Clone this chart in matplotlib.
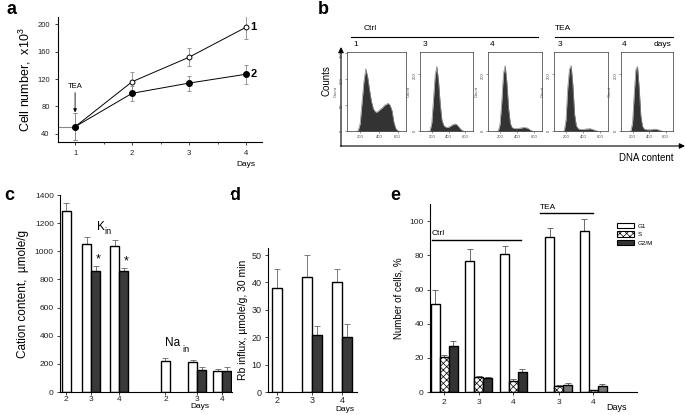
import matplotlib
matplotlib.use('Agg')
import matplotlib.pyplot as plt
from matplotlib.patches import Patch
from matplotlib.transforms import blended_transform_factory

plt.rcParams['font.family'] = ['Liberation Sans', 'DejaVu Sans']
plt.rcParams['mathtext.fontset'] = 'custom'
plt.rcParams['mathtext.rm'] = 'Liberation Sans'
plt.rcParams['hatch.linewidth'] = 0.5

# --- a: cell growth
days_a = [1, 2, 3, 4]
cells_ctrl = [50, 116, 152, 196]
cells_ctrl_err = [20, 15, 13, 18]
cells_tea = [50, 99, 114, 127]
cells_tea_err = [20, 11, 11, 14]

# --- b: DNA histograms (counts per channel)
dna_channel = [160, 180, 200, 220, 240, 260, 280, 300, 320, 340, 360, 380, 400,
               420, 440, 460, 480, 500, 520, 540, 560, 580, 600, 620, 640]
hist_ctrl1 = [0, 2, 15, 55, 95, 120, 105, 80, 58, 44, 38, 37, 40,
              43, 46, 50, 52, 54, 50, 40, 18, 6, 2, 0, 0]
hist_ctrl3 = [0, 3, 30, 110, 195, 225, 175, 95, 40, 22, 16, 14, 15,
              18, 22, 25, 26, 23, 16, 9, 4, 1, 0, 0, 0]
hist_ctrl4 = [0, 2, 25, 100, 200, 228, 170, 80, 28, 14, 11, 10, 10,
              11, 12, 13, 14, 13, 12, 8, 4, 1, 0, 0, 0]
hist_tea3 = [0, 3, 40, 150, 215, 228, 160, 60, 20, 10, 8, 7, 7,
             8, 9, 9, 10, 8, 6, 4, 2, 0, 0, 0, 0]
hist_tea4 = [0, 2, 30, 130, 215, 225, 150, 55, 18, 9, 7, 6, 6,
             6, 7, 8, 8, 7, 5, 3, 1, 0, 0, 0, 0]

# --- c: cation content
cation_days = ['2', '3', '4', '2', '3', '4']
cation_ctrl = [1285, 1050, 1040, 221, 210, 147]
cation_ctrl_err = [55, 50, 40, 20, 16, 16]
cation_tea = [None, 857, 857, None, 157, 150]
cation_tea_err = [None, 36, 25, None, 19, 27]

# --- d: Rb influx
rb_days = ['2', '3', '4']
rb_ctrl = [38, 42, 40]
rb_ctrl_err = [7, 8, 5]
rb_tea = [None, 21, 20]
rb_tea_err = [None, 3, 5]

# --- e: cell cycle phases
cycle_days = ['2', '3', '4', '3', '4']
cycle_group = ['Ctrl', 'Ctrl', 'Ctrl', 'TEA', 'TEA']
g1 = [51.5, 76.5, 80.5, 91, 94.5]
g1_err = [8, 7, 5, 5, 6.5]
s_phase = [20.7, 8.7, 6.8, 3.6, 1.0]
s_err = [0.8, 0.5, 0.8, 0.5, 0.3]
g2m = [26.8, 8.2, 12, 4.4, 3.8]
g2m_err = [3.4, 0.8, 1.7, 0.7, 0.9]

W, H = 685, 415
fig = plt.figure(figsize=(W / 100, H / 100), dpi=100)


def px_rect(l, t, r, b):
    return [l / W, 1 - b / H, (r - l) / W, (b - t) / H]


def style_axes(ax, fs):
    for s in ['top', 'right']:
        ax.spines[s].set_visible(False)
    for s in ['left', 'bottom']:
        ax.spines[s].set_linewidth(0.8)
    ax.tick_params(labelsize=fs, width=0.6, colors='#222')


def paired_bars(ax, pos, ctrl, ctrl_err, tea, tea_err, w):
    for i, p in enumerate(pos):
        xw = p if tea[i] is None else p - w / 2
        ax.bar(xw, ctrl[i], w, color='white', edgecolor='k', lw=1.0, zorder=2)
        ax.errorbar(xw, ctrl[i], yerr=[[0], [ctrl_err[i]]], fmt='none',
                    ecolor='#666', elinewidth=0.6, capsize=2, capthick=0.6, zorder=1)
        if tea[i] is not None:
            ax.bar(p + w / 2, tea[i], w, color='#3a3a3a', edgecolor='k', lw=1.0, zorder=2)
            ax.errorbar(p + w / 2, tea[i], yerr=[[0], [tea_err[i]]], fmt='none',
                        ecolor='#666', elinewidth=0.6, capsize=2, capthick=0.6, zorder=1)


# overlay for labels and panel b annotations (pixel coords)
ov = fig.add_axes([0, 0, 1, 1])
ov.set_xlim(0, W)
ov.set_ylim(H, 0)
ov.axis('off')
for lab, x, y in [('a', 12, 10), ('b', 323, 9), ('c', 9, 195), ('d', 235, 195), ('e', 395, 195)]:
    ov.text(x, y, lab, fontsize=13, fontweight='bold', ha='center', va='center')

# ---------------- a
ax = fig.add_axes(px_rect(58, 17, 262, 141.7))
style_axes(ax, 5.5)
ax.set_xlim(0.7, 4.28)
ax.set_ylim(28, 211)
ax.plot([0.7, days_a[0]], [cells_ctrl[0], cells_ctrl[0]], color='#888', lw=0.8)
ax.errorbar(days_a, cells_ctrl, yerr=cells_ctrl_err, fmt='none', ecolor='#888',
            elinewidth=0.6, capsize=1.5, capthick=0.6)
ax.errorbar(days_a, cells_tea, yerr=cells_tea_err, fmt='none', ecolor='#888',
            elinewidth=0.6, capsize=1.5, capthick=0.6)
ax.plot(days_a, cells_ctrl, '-o', color='k', mfc='white', ms=3.5, lw=0.7, mew=0.7, zorder=3)
ax.plot(days_a, cells_tea, '-o', color='k', mfc='k', ms=4, lw=0.7, zorder=4)
ax.set_xticks(days_a)
ax.set_xticks([1.5, 2.5, 3.5], minor=True)
ax.set_yticks([40, 80, 120, 160, 200])
ax.tick_params(length=2.5, pad=3.5)
ax.tick_params(which='minor', length=1.5, width=0.5)
ax.set_ylabel(r'Cell number,  x10$^{\mathregular{3}}$', fontsize=9, labelpad=3)
ax.annotate('', xy=(1, 71), xytext=(1, 100),
            arrowprops=dict(arrowstyle='-|>', color='k', lw=0.6, mutation_scale=5,
                            shrinkA=0, shrinkB=0))
ax.text(1, 109, 'TEA', ha='center', va='center', fontsize=5.5)
ax.text(4.08, cells_ctrl[-1], '1', fontsize=8, fontweight='bold', va='center', clip_on=False)
ax.text(4.08, cells_tea[-1], '2', fontsize=8, fontweight='bold', va='center', clip_on=False)
tr = blended_transform_factory(ax.transData, ax.transAxes)
ax.text(4, -0.18, 'Days', transform=tr, ha='center', va='center', fontsize=6)

# ---------------- b
ov.annotate('', xy=(341, 47), xytext=(341, 146.5),
            arrowprops=dict(arrowstyle='-|>', color='k', lw=0.8, mutation_scale=8,
                            shrinkA=0, shrinkB=0))
ov.annotate('', xy=(685, 146), xytext=(340.6, 146),
            arrowprops=dict(arrowstyle='-|>', color='k', lw=0.8, mutation_scale=8,
                            shrinkA=0, shrinkB=0))
ov.text(327, 81, 'Counts', rotation=90, ha='center', va='center', fontsize=7)
ov.text(646, 158, 'DNA content', ha='center', va='center', fontsize=7)
ov.text(364, 28, 'Ctrl', ha='left', va='center', fontsize=6)
ov.plot([351, 538], [37, 37], color='k', lw=0.8)
ov.text(555, 28, 'TEA', ha='left', va='center', fontsize=6)
ov.plot([555, 673], [37, 37], color='k', lw=0.8)
for lab, x in [('1', 356), ('3', 425), ('4', 492), ('3', 560), ('4', 624)]:
    ov.text(x, 44, lab, ha='center', va='center', fontsize=6)
ov.text(663, 44, 'days', ha='center', va='center', fontsize=6)

hist_boxes = [(347, 406), (420, 473), (488, 542), (554, 608), (621, 673)]
hist_data = [hist_ctrl1, hist_ctrl3, hist_ctrl4, hist_tea3, hist_tea4]
for i, ((l, r), counts) in enumerate(zip(hist_boxes, hist_data)):
    hax = fig.add_axes(px_rect(l, 52, r, 131.5))
    hax.fill_between(dna_channel, counts, color='#333', lw=0)
    hax.plot(dna_channel, counts, color='#8a8a8a', lw=0.5)
    hax.set_xlim(60, 690)
    if i == 0:
        hax.set_ylim(0, 152)
        hax.set_yticks([0, 50, 100, 150])
    else:
        hax.set_ylim(0, 275)
        hax.set_yticks([0, 200])
    hax.set_xticks([200, 400, 600])
    for s in hax.spines.values():
        s.set_linewidth(0.6)
        s.set_color('#555')
    hax.tick_params(labelsize=3, length=1.5, width=0.4, pad=1, colors='#444')
    hax.tick_params(axis='y', labelrotation=90)
    hax.set_ylabel('Count', fontsize=3, labelpad=1, color='#444')

# ---------------- c
w_c = 0.34
cat_pos = [0, 0.95, 2.0, 3.75, 4.95, 5.9]
ax = fig.add_axes(px_rect(60, 195, 232, 392))
style_axes(ax, 6)
paired_bars(ax, cat_pos, cation_ctrl, cation_ctrl_err, cation_tea, cation_tea_err, w_c)
ax.set_xlim(-0.23, 6.26)
ax.set_ylim(0, 1400)
ax.set_yticks(range(0, 1401, 200))
ax.set_xticks(cat_pos)
ax.set_xticklabels(cation_days)
ax.tick_params(axis='x', length=2, pad=1)
ax.tick_params(axis='y', length=2.5, pad=2)
ax.set_ylabel(u'Cation content,  \u00b5mole/g', fontsize=8.5, labelpad=4)
for i in [1, 2]:
    ax.text(cat_pos[i] + w_c * 0.55, cation_tea[i] + cation_tea_err[i] + 5, '*',
            fontsize=9, ha='left', va='bottom')
ax.text(1.17, 1175, 'K', fontsize=8.5, ha='left', va='center')
ax.text(1.46, 1140, 'in', fontsize=6.5, ha='left', va='center')
ax.text(3.73, 348, 'Na', fontsize=8.5, ha='left', va='center')
ax.text(4.38, 305, 'in', fontsize=6.5, ha='left', va='center')
tr = blended_transform_factory(ax.transData, ax.transAxes)
ax.text(5.06, -0.075, 'Days', transform=tr, ha='center', va='center', fontsize=6)

# ---------------- d
w_d = 0.33
rb_pos = [0, 1.17, 2.17]
ax = fig.add_axes(px_rect(268, 248, 357, 392))
style_axes(ax, 6.5)
paired_bars(ax, rb_pos, rb_ctrl, rb_ctrl_err, rb_tea, rb_tea_err, w_d)
ax.set_xlim(-0.3, 2.67)
ax.set_ylim(0, 52.6)
ax.set_yticks(range(0, 51, 10))
ax.set_xticks(rb_pos)
ax.set_xticklabels(rb_days)
ax.tick_params(axis='x', length=2, pad=1)
ax.tick_params(axis='y', length=2.5, pad=2)
ax.set_ylabel(u'Rb influx, \u00b5mole/g, 30 min', fontsize=7.5, labelpad=3)
tr = blended_transform_factory(ax.transData, ax.transAxes)
ax.text(2.25, -0.12, 'Days', transform=tr, ha='center', va='center', fontsize=6)

# ---------------- e
w_e = 0.26
cyc_pos = [0, 1.0, 2.01, 3.32, 4.32]
ax = fig.add_axes(px_rect(430, 204, 637, 392.2))
style_axes(ax, 6)
for i, p in enumerate(cyc_pos):
    dark = '#333' if cycle_group[i] == 'Ctrl' else '#777'
    ax.bar(p - w_e, g1[i], w_e, color='white', edgecolor='k', lw=1.0, zorder=2)
    ax.bar(p, s_phase[i], w_e, color='white', edgecolor='k', hatch='xxxxx', lw=1.0, zorder=2)
    ax.bar(p + w_e, g2m[i], w_e, color=dark, edgecolor='k', lw=1.0, zorder=2)
    for dx, v, e in [(-w_e, g1[i], g1_err[i]), (0, s_phase[i], s_err[i]), (w_e, g2m[i], g2m_err[i])]:
        ax.errorbar(p + dx, v, yerr=[[0], [e]], fmt='none', ecolor='#555',
                    elinewidth=0.6, capsize=2, capthick=0.6, zorder=1)
ax.set_xlim(-0.41, 5.59)
ax.set_ylim(0, 110)
ax.set_yticks(range(0, 101, 20))
ax.set_xticks(cyc_pos)
ax.set_xticklabels(cycle_days)
ax.tick_params(axis='x', length=2.5, pad=2.5)
ax.tick_params(axis='y', length=2.5, pad=2)
ax.set_ylabel('Number of cells, %', fontsize=7, labelpad=4)
ax.plot([-0.35, 2.23], [89, 89], color='k', lw=1.0, clip_on=False)
ax.text(-0.35, 90.5, 'Ctrl', fontsize=6, ha='left', va='bottom')
ax.plot([2.78, 4.32], [104.7, 104.7], color='k', lw=1.0, clip_on=False)
ax.text(2.78, 106, 'TEA', fontsize=6, ha='left', va='bottom')
handles = [Patch(facecolor='white', edgecolor='k', lw=0.8),
           Patch(facecolor='white', edgecolor='k', hatch='xxxxx', lw=0.8),
           Patch(facecolor='#333', edgecolor='k', lw=0.8)]
ax.legend(handles, ['G1', 'S', 'G2/M'], loc='upper left', bbox_to_anchor=(0.905, 0.9),
          frameon=False, fontsize=4.5, handlelength=2.7, handleheight=0.9,
          handletextpad=0.6, labelspacing=0.45, borderpad=0, borderaxespad=0)
tr = blended_transform_factory(ax.transData, ax.transAxes)
ax.text(5.01, -0.08, 'Days', transform=tr, ha='center', va='center', fontsize=6.5)

fig.savefig('out.png', dpi=100)
